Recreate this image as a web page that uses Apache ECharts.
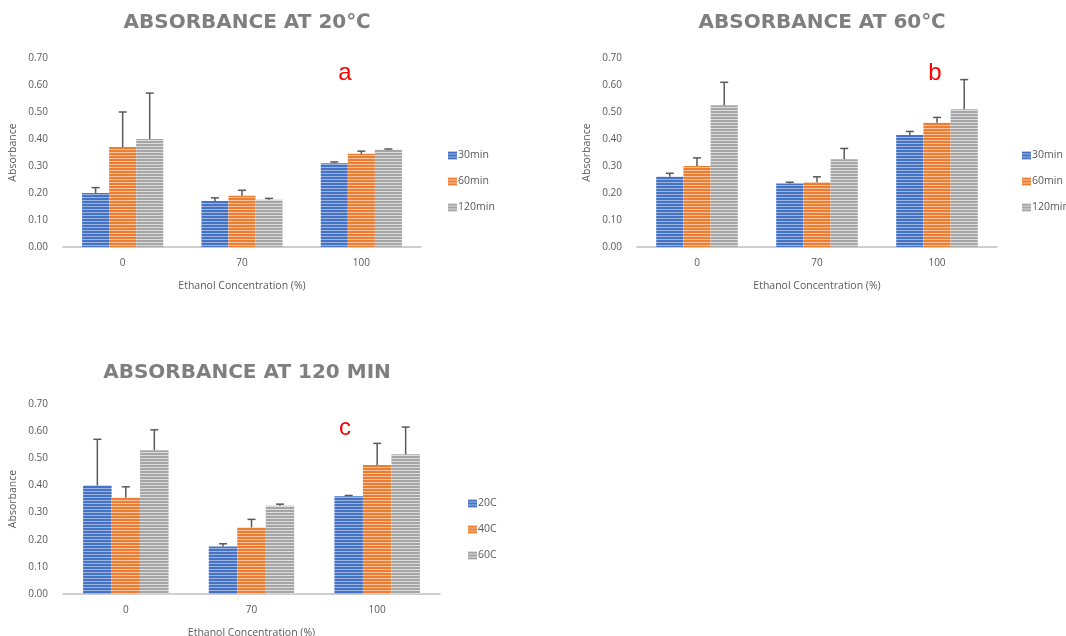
<!DOCTYPE html>
<html>
<head>
<meta charset="utf-8">
<script src="https://cdn.jsdelivr.net/npm/echarts@6/dist/echarts.min.js"></script>
<style>
  html, body { margin: 0; padding: 0; background: #fff; }
  #chart { width: 1066px; height: 636px; }
</style>
</head>
<body>
<div id="chart"></div>
<script>
// categories (ethanol concentration %)
const categories = ['0', '70', '100'];
const yTicks = [0, 0.1, 0.2, 0.3, 0.4, 0.5, 0.6, 0.7];

// chart a: absorbance at 20C
const a30 = [0.20, 0.17, 0.31];
const a30Err = [0.02, 0.012, 0.005];
const a60 = [0.37, 0.19, 0.345];
const a60Err = [0.13, 0.02, 0.01];
const a120 = [0.40, 0.175, 0.36];
const a120Err = [0.17, 0.005, 0.003];

// chart b: absorbance at 60C
const b30 = [0.26, 0.235, 0.415];
const b30Err = [0.013, 0.005, 0.013];
const b60 = [0.30, 0.24, 0.46];
const b60Err = [0.03, 0.02, 0.02];
const b120 = [0.525, 0.325, 0.51];
const b120Err = [0.085, 0.04, 0.11];

// chart c: absorbance at 120 min
const c20 = [0.40, 0.175, 0.36];
const c20Err = [0.17, 0.01, 0.003];
const c40 = [0.355, 0.245, 0.475];
const c40Err = [0.04, 0.03, 0.08];
const c60 = [0.53, 0.325, 0.515];
const c60Err = [0.075, 0.006, 0.10];

const GAP = 0.32;
const txt = '#595959';

function stripe(base, light) {
    let c = document.createElement('canvas');
    c.width = 4; c.height = 3;
    let ctx = c.getContext('2d');
    ctx.fillStyle = base;
    ctx.fillRect(0, 0, 4, 3);
    ctx.fillStyle = light;
    ctx.fillRect(0, 2, 4, 1);
    return {image: c, repeat: 'repeat'};
}
const blue = stripe('#4472c4', '#9db4e0');
const orange = stripe('#ed7d31', '#f8c39e');
const gray = stripe('#a5a5a5', '#dcdcdc');

function barSeries(name, data, idx, fill) {
    return {
        name: name, type: 'bar', xAxisIndex: idx, yAxisIndex: idx,
        data: data, barGap: '0%', barCategoryGap: (GAP * 100) + '%',
        itemStyle: {color: fill},
        emphasis: {disabled: true}
    };
}

function errSeries(vals, errs, idx, pos) {
    return {
        type: 'custom', xAxisIndex: idx, yAxisIndex: idx, z: 5,
        data: vals.map((v, i) => [i, v, errs[i]]),
        encode: {x: 0, y: 1},
        renderItem: function (params, api) {
            let v = api.value(1), e = api.value(2);
            let base = api.coord([api.value(0), v]);
            let top = api.coord([api.value(0), v + e]);
            let band = api.size([1, 0])[0];
            let bw = band * (1 - GAP) / 3;
            let cx = base[0] + (pos - 1) * bw;
            let st = {stroke: '#595959', lineWidth: 1.5};
            return {
                type: 'group',
                children: [
                    {type: 'line', shape: {x1: cx, y1: base[1], x2: cx, y2: top[1]}, style: st},
                    {type: 'line', shape: {x1: cx - 4, y1: top[1], x2: cx + 4, y2: top[1]}, style: st}
                ]
            };
        }
    };
}

function xAx(idx) {
    return {
        type: 'category', gridIndex: idx, data: categories,
        axisTick: {show: false},
        axisLine: {lineStyle: {color: '#bfbfbf', width: 1.5}},
        axisLabel: {color: txt, fontSize: 10, margin: 11, fontFamily: 'Open Sans'},
        name: 'Ethanol Concentration (%)', nameLocation: 'middle', nameGap: 34,
        nameTextStyle: {color: txt, fontSize: 10.5, fontFamily: 'Open Sans'}
    };
}
function yAx(idx) {
    return {
        type: 'value', gridIndex: idx, min: 0, max: 0.7, interval: 0.1,
        splitLine: {show: false},
        axisLine: {show: false},
        axisLabel: {color: txt, fontSize: 10, margin: 15, fontFamily: 'Open Sans',
            formatter: v => v.toFixed(2)},
        name: 'Absorbance', nameLocation: 'middle', nameGap: 44,
        nameTextStyle: {color: txt, fontSize: 10.5, fontFamily: 'Open Sans'}
    };
}

function legend(names, left, top) {
    return {
        data: names, orient: 'vertical', left: left, top: top,
        icon: 'rect', itemWidth: 9, itemHeight: 8, itemGap: 15,
        selectedMode: false,
        textStyle: {color: txt, fontSize: 10.5, fontFamily: 'Open Sans', padding: [0, 0, 0, -4]}
    };
}

function heading(text, x, y) {
    return {
        type: 'text', x: x, y: y,
        style: {text: text, textAlign: 'center', textVerticalAlign: 'middle',
            font: 'bold 20px "DejaVu Sans"', fill: '#7f7f7f'}
    };
}
function letter(text, x, y) {
    return {
        type: 'text', x: x, y: y,
        style: {text: text, textAlign: 'center', textVerticalAlign: 'middle',
            font: '24px "Liberation Sans"', fill: '#ff0000'}
    };
}

const chart = echarts.init(document.getElementById('chart'));
chart.setOption({
    animation: false,
    grid: [
        {left: 63, top: 58, width: 358, height: 189, outerBoundsMode: 'none'},
        {left: 637, top: 58, width: 360, height: 189, outerBoundsMode: 'none'},
        {left: 63, top: 404, width: 377, height: 190, outerBoundsMode: 'none'}
    ],
    xAxis: [xAx(0), xAx(1), xAx(2)],
    yAxis: [yAx(0), yAx(1), yAx(2)],
    legend: [
        legend(['30min', '60min', '120min'], 443, 145),
        legend(['30min ', '60min ', '120min '], 1017, 145),
        legend(['20C', '40C', '60C'], 463, 493)
    ],
    graphic: [
        heading('ABSORBANCE AT 20\u2103', 247, 23),
        heading('ABSORBANCE AT 60\u2103', 822, 23),
        heading('ABSORBANCE AT 120 MIN', 247, 373),
        letter('a', 345, 73),
        letter('b', 935, 73),
        letter('c', 345, 428)
    ],
    series: [
        barSeries('30min', a30, 0, blue),
        barSeries('60min', a60, 0, orange),
        barSeries('120min', a120, 0, gray),
        errSeries(a30, a30Err, 0, 0),
        errSeries(a60, a60Err, 0, 1),
        errSeries(a120, a120Err, 0, 2),
        barSeries('30min ', b30, 1, blue),
        barSeries('60min ', b60, 1, orange),
        barSeries('120min ', b120, 1, gray),
        errSeries(b30, b30Err, 1, 0),
        errSeries(b60, b60Err, 1, 1),
        errSeries(b120, b120Err, 1, 2),
        barSeries('20C', c20, 2, blue),
        barSeries('40C', c40, 2, orange),
        barSeries('60C', c60, 2, gray),
        errSeries(c20, c20Err, 2, 0),
        errSeries(c40, c40Err, 2, 1),
        errSeries(c60, c60Err, 2, 2)
    ]
});
</script>
</body>
</html>
